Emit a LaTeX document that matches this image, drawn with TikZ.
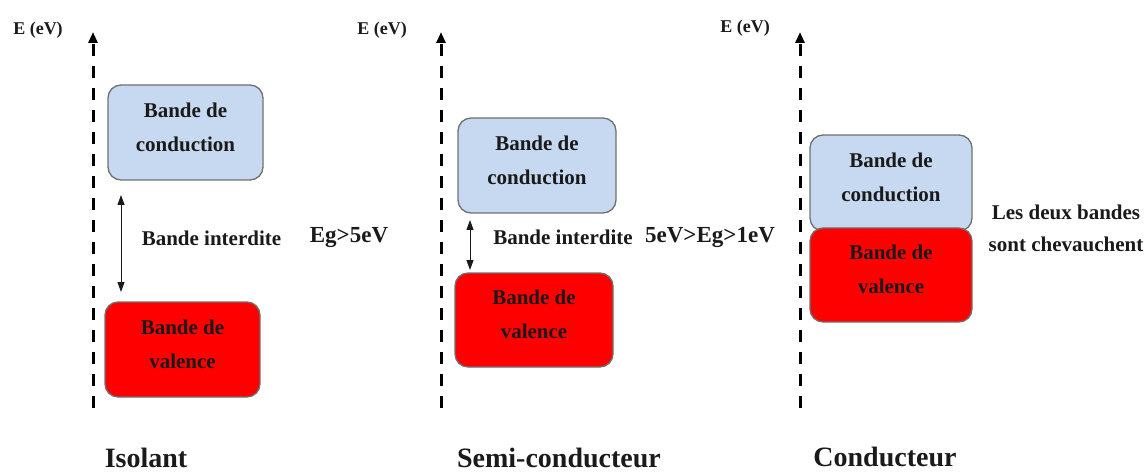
\documentclass[tikz,border=0pt]{standalone}
\usepackage{fontspec}
\setmainfont{Liberation Serif}
\usetikzlibrary{arrows.meta}
\definecolor{cband}{HTML}{C6D9F1}
\definecolor{vband}{HTML}{FF0000}
\definecolor{bordergray}{HTML}{707070}
\definecolor{txt}{HTML}{1A1A1A}
\newcommand{\bandtext}[2]{\raisebox{5pt}[\height][\depth]{\begin{tabular}{@{}c@{}}#1\\#2\end{tabular}}}
\tikzset{
  band/.style={draw=bordergray, line width=1.3pt, rounded corners=13pt, align=center,
    text=txt, font=\bfseries\fontsize{21}{34}\selectfont, inner sep=0pt},
  axisline/.style={line width=3pt, dash pattern=on 12pt off 10pt, -{Triangle[width=9pt,length=11pt]}},
  gaparrow/.style={line width=1pt, draw=txt, {Triangle[width=7pt,length=10pt]}-{Triangle[width=7pt,length=10pt]}},
  lbl/.style={text=txt, font=\bfseries\fontsize{21}{32}\selectfont, inner sep=0pt, align=center},
  eglbl/.style={text=txt, font=\bfseries\fontsize{23}{28}\selectfont, inner sep=0pt},
  elbl/.style={text=txt, font=\bfseries\fontsize{18}{22}\selectfont, inner sep=0pt},
  title/.style={text=txt, font=\bfseries\fontsize{28}{32}\selectfont, inner sep=0pt}
}
\begin{document}
\begin{tikzpicture}[x=1pt,y=-1pt]
\useasboundingbox (0,0) rectangle (1146,473);
% axes
\coordinate (a1b) at (93,408); \coordinate (a1t) at (93,32);
\coordinate (a2b) at (441,408); \coordinate (a2t) at (441,32);
\coordinate (a3b) at (800,408); \coordinate (a3t) at (800,32);
\draw[axisline] (a1b) -- (a1t);
\draw[axisline] (a2b) -- (a2t);
\draw[axisline] (a3b) -- (a3t);
\node[elbl] (e1) at (38,30) {E (eV)};
\node[elbl] (e2) at (382,30) {E (eV)};
\node[elbl] (e3) at (745,28) {E (eV)};
% Isolant
\node[band, fill=cband, minimum width=155pt, minimum height=95pt] (c1) at (185.5,132.5) {\bandtext{Bande de}{conduction}};
\node[band, fill=vband, minimum width=155pt, minimum height=95pt] (v1) at (182.5,349.5) {\bandtext{Bande de}{valence}};
\coordinate (g1t) at (121,195); \coordinate (g1b) at (121,292);
\draw[gaparrow] (g1t) -- (g1b);
\node[lbl] (bi1) at (211.5,238) {Bande interdite};
\node[eglbl] (eg1) at (349,238) {Eg>5eV};
% Semi-conducteur
\node[band, fill=cband, minimum width=158pt, minimum height=95pt] (c2) at (537,165.5) {\bandtext{Bande de}{conduction}};
\node[band, fill=vband, minimum width=158pt, minimum height=94pt] (v2) at (534,320) {\bandtext{Bande de}{valence}};
\coordinate (g2t) at (470,220); \coordinate (g2b) at (470,270);
\draw[gaparrow] (g2t) -- (g2b);
\node[lbl] (bi2) at (563,237) {Bande interdite};
\node[eglbl] (eg2) at (710,237) {5eV>Eg>1eV};
% Conducteur
\node[band, fill=cband, minimum width=162pt, minimum height=96pt] (c3) at (891,183) {\bandtext{Bande de}{conduction}};
\node[band, fill=vband, minimum width=162pt, minimum height=94pt] (v3) at (891,275) {\bandtext{Bande de}{valence}};
\node[lbl] (ch) at (1066,228) {Les deux bandes\\sont chevauchent};
% titles
\node[title] (t1) at (146,458) {Isolant};
\node[title] (t2) at (559,458) {Semi-conducteur};
\node[title] (t3) at (885,457) {Conducteur};
\end{tikzpicture}
\end{document}
